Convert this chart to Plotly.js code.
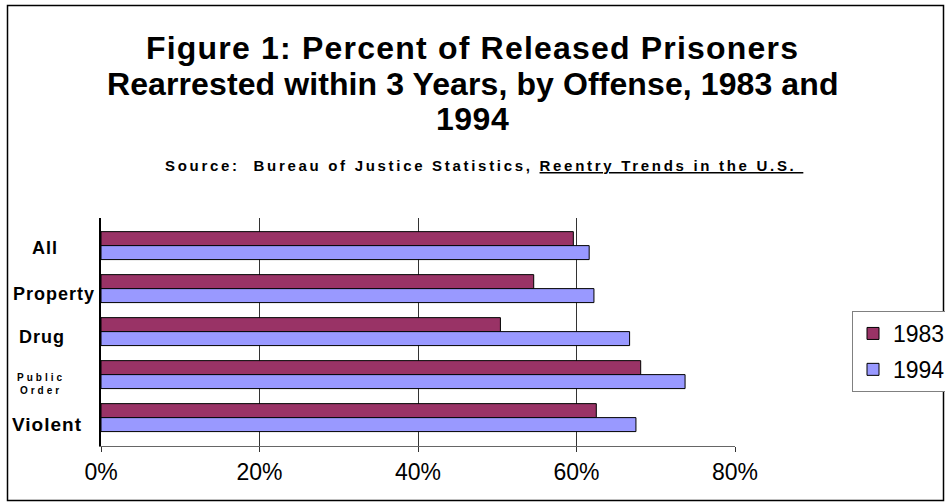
<!DOCTYPE html>
<html>
<head>
<meta charset="utf-8">
<script src="https://cdn.plot.ly/plotly-3.0.1.min.js"></script>
<style>html,body{margin:0;padding:0;background:#fff;}#chart{width:945px;height:502px;}</style>
</head>
<body>
<div id="chart"></div>
<script>
// Data
const categories = ["All", "Property", "Drug", "Public Order", "Violent"];
const categoryLabels = ["All", "Property", "Drug", "<span style=\"letter-spacing:3px\">Public</span><br><span style=\"letter-spacing:3px\">Order</span>", "Violent"];
const values1983 = [59.6, 54.6, 50.4, 68.1, 62.5];
const values1994 = [61.6, 62.2, 66.7, 73.7, 67.5];
const seriesNames = ["1983", "1994"];
const xTickValues = [0, 20, 40, 60, 80];
const xTickLabels = ["0%", "20%", "40%", "60%", "80%"];
const titleLines = ["Figure 1: Percent of Released Prisoners", "Rearrested within 3 Years, by Offense, 1983 and", "1994"];

const FONT = "Liberation Sans, Arial, sans-serif";
const labelX = [-0.088, -0.074, -0.093, -0.0946, -0.0844];
const labelShift = [-2, -5, -5, -9, -7];
const labelSize = [18, 18, 18, 10, 19];
const labelSpacing = [1, 1, 1, 0, 1];

// plot area: x 101..735, y 218..446
const py = v => (446 - v) / 228;
const px = v => (v - 101) / 634;

const traces = [
  {type: "bar", orientation: "h", name: seriesNames[0], y: categories, x: values1983,
   legendgroup: "a",
   marker: {color: "#993366", line: {color: "#000", width: 1}}, hoverinfo: "x+y"},
  {type: "bar", orientation: "h", name: seriesNames[1], y: categories, x: values1994,
   legendgroup: "b",
   marker: {color: "#9999FF", line: {color: "#000", width: 1}}, hoverinfo: "x+y"}
];

const annotations = categories.map((c, i) => ({
  xref: "paper", yref: "y", x: labelX[i], y: c, xanchor: "center", yanchor: "middle",
  yshift: labelShift[i], showarrow: false,
  text: "<b>" + (labelSpacing[i] ? "<span style=\"letter-spacing:" + labelSpacing[i] + "px\">" + categoryLabels[i] + "</span>" : categoryLabels[i]) + "</b>",
  font: {family: FONT, size: labelSize[i], color: "#000"}
}));
const titleY = [48, 84, 119];
const titleSpacing = [1.2, 0.1, 0.5];
titleLines.forEach((t, i) => annotations.push({
  xref: "paper", yref: "paper", x: px(472.5), y: py(titleY[i]), xanchor: "center", yanchor: "middle",
  showarrow: false,
  text: "<b><span style=\"letter-spacing:" + titleSpacing[i] + "px\">" + t + "</span></b>",
  font: {family: FONT, size: 32, color: "#000"}
}));
annotations.push({
  xref: "paper", yref: "paper", x: px(484), y: py(165), xanchor: "center", yanchor: "middle",
  showarrow: false,
  text: "<b><span style=\"letter-spacing:2.7px\">Source:  Bureau of Justice Statistics, <u>Reentry Trends in the U.S. </u></span></b>",
  font: {family: FONT, size: 15, color: "#000"}
});

const layout = {
  width: 945, height: 502,
  margin: {l: 101, r: 210, t: 218, b: 56, autoexpand: false},
  paper_bgcolor: "#fff", plot_bgcolor: "#fff",
  barmode: "group", bargap: 0.35, bargroupgap: 0,
  xaxis: {
    range: [0, 80], tickvals: xTickValues, ticktext: xTickLabels,
    showgrid: true, gridcolor: "#333", gridwidth: 1,
    zeroline: false, showline: true, linecolor: "#666", linewidth: 1,
    ticks: "outside", ticklen: 5, tickcolor: "#333",
    tickfont: {family: FONT, size: 23, color: "#000"},
    fixedrange: true
  },
  yaxis: {
    type: "category", categoryorder: "array", categoryarray: categories,
    autorange: false, range: [4.66, -0.642],
    showticklabels: false, showgrid: false, zeroline: false,
    showline: true, linecolor: "#000", linewidth: 2, ticks: "",
    fixedrange: true
  },
  showlegend: true,
  legend: {
    x: px(852), y: py(311), xanchor: "left", yanchor: "top",
    bordercolor: "#808080", borderwidth: 1, bgcolor: "#fff",
    tracegroupgap: 3, traceorder: "grouped",
    font: {family: FONT, size: 23, color: "#000"}
  },
  annotations: annotations,
  shapes: [{
    type: "rect", xref: "paper", yref: "paper",
    x0: px(7.5), x1: px(943.5),
    y0: py(500.5), y1: py(5.5),
    line: {color: "#000", width: 1.5}, fillcolor: "rgba(0,0,0,0)", layer: "above"
  }]
};

Plotly.newPlot("chart", traces, layout, {displayModeBar: false, staticPlot: true});
</script>
</body>
</html>
